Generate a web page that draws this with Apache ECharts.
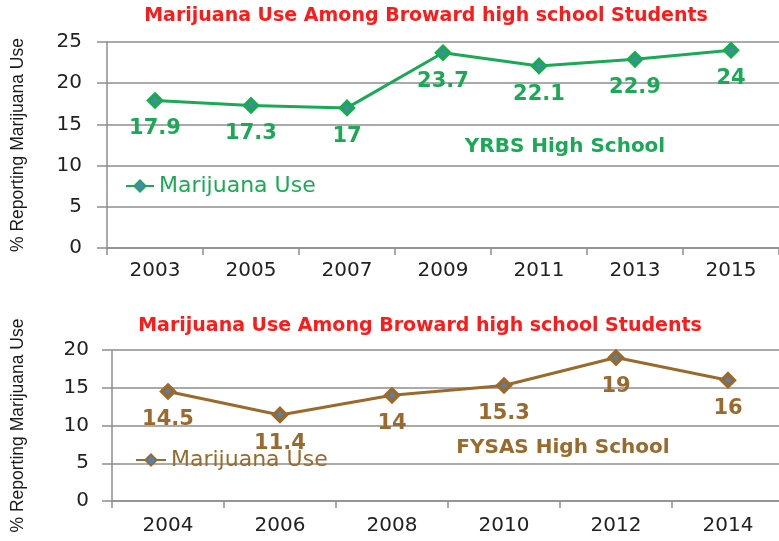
<!DOCTYPE html>
<html>
<head>
<meta charset="utf-8">
<script src="https://cdn.jsdelivr.net/npm/echarts@6/dist/echarts.min.js"></script>
<style>
  html, body { margin: 0; padding: 0; background: #fff; }
  #main { width: 779px; height: 541px; }
</style>
</head>
<body>
<div id="main"></div>
<script>
// data
var yrbsYears = ['2003', '2005', '2007', '2009', '2011', '2013', '2015'];
var yrbsValues = [17.9, 17.3, 17, 23.7, 22.1, 22.9, 24];
var fysasYears = ['2004', '2006', '2008', '2010', '2012', '2014'];
var fysasValues = [14.5, 11.4, 14, 15.3, 19, 16];

var titleText = 'Marijuana Use Among Broward high school Students';
var yName = '% Reporting Marijuana Use';
var green = '#1aaa55';
var brown = '#9a6a2c';
var grey = '#8e8e8e';

var chart = echarts.init(document.getElementById('main'));

// shared axis settings
function xAxisFor(idx, cats, margin) {
    return {
        type: 'category',
        gridIndex: idx,
        data: cats,
        axisLine: { lineStyle: { color: grey, width: 1.5 } },
        axisTick: { show: true, length: 7, lineStyle: { color: grey, width: 1.5 } },
        axisLabel: { color: '#222', fontSize: 20, fontFamily: 'DejaVu Sans', margin: margin }
    };
}
function yAxisFor(idx, max, gap, margin) {
    return {
        type: 'value',
        gridIndex: idx,
        min: 0,
        max: max,
        interval: 5,
        name: yName,
        nameLocation: 'middle',
        nameRotate: 90,
        nameGap: gap,
        nameTextStyle: { color: '#1a1a1a', fontSize: 17.5, fontFamily: 'Liberation Sans' },
        axisLine: { show: true, lineStyle: { color: grey, width: 1.5 } },
        axisTick: { show: true, length: 10, lineStyle: { color: grey, width: 1.5 } },
        axisLabel: { color: '#222', fontSize: 20, fontFamily: 'DejaVu Sans', margin: margin },
        splitLine: { lineStyle: { color: grey, width: 1.5 } }
    };
}
function lineSeries(name, idx, vals, color) {
    return {
        name: name,
        type: 'line',
        xAxisIndex: idx,
        yAxisIndex: idx,
        data: vals,
        symbol: 'diamond',
        symbolSize: 12,
        lineStyle: { color: color, width: 3 },
        itemStyle: { color: '#4f81bd', borderColor: color, borderWidth: 4 },
        label: {
            show: true,
            position: 'bottom',
            distance: 10,
            color: color,
            fontSize: 21,
            fontWeight: 'bold',
            fontFamily: 'DejaVu Sans'
        }
    };
}

var option = {
    animation: false,
    title: [
        { text: titleText, left: 421, top: 2, textAlign: 'center',
          textStyle: { color: '#ff1a1a', fontSize: 19, fontWeight: 'bold', fontFamily: 'DejaVu Sans' } },
        { text: titleText, left: 415, top: 312, textAlign: 'center',
          textStyle: { color: '#ff1a1a', fontSize: 19, fontWeight: 'bold', fontFamily: 'DejaVu Sans' } },
        { text: 'YRBS High School', left: 560, top: 132, textAlign: 'center',
          textStyle: { color: green, fontSize: 20, fontWeight: 'bold', fontFamily: 'DejaVu Sans' } },
        { text: 'FYSAS High School', left: 558, top: 433, textAlign: 'center',
          textStyle: { color: brown, fontSize: 20, fontWeight: 'bold', fontFamily: 'DejaVu Sans' } }
    ],
    legend: [
        { data: ['YRBS'], left: 120, top: 170, itemWidth: 28, itemHeight: 14, itemGap: 5,
          formatter: function () { return 'Marijuana Use'; },
          textStyle: { color: green, fontSize: 22, fontFamily: 'DejaVu Sans' } },
        { data: ['FYSAS'], left: 130, top: 444, itemWidth: 30, itemHeight: 14, itemGap: 5,
          formatter: function () { return 'Marijuana Use'; },
          textStyle: { color: brown, fontSize: 22, fontFamily: 'DejaVu Sans' } }
    ],
    grid: [
        { left: 107, top: 42, width: 672, height: 206, containLabel: false, outerBoundsMode: 'none' },
        { left: 112, top: 350, width: 672, height: 151, containLabel: false, outerBoundsMode: 'none' }
    ],
    xAxis: [
        xAxisFor(0, yrbsYears, 13),
        xAxisFor(1, fysasYears, 15)
    ],
    yAxis: [
        yAxisFor(0, 25, 80, 25),
        yAxisFor(1, 20, 85, 23)
    ],
    series: [
        lineSeries('YRBS', 0, yrbsValues, green),
        lineSeries('FYSAS', 1, fysasValues, brown)
    ]
};

chart.setOption(option);
</script>
</body>
</html>
